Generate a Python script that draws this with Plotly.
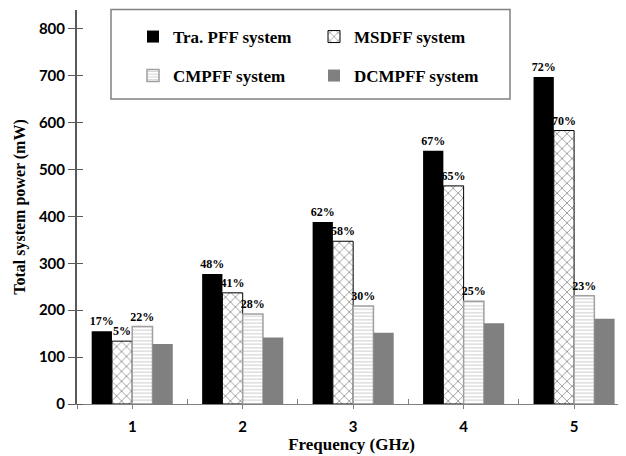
import plotly.graph_objects as go

categories = [1, 2, 3, 4, 5]
tra_pff = [155, 277, 388, 540, 697]
msdff = [134, 237, 347, 465, 583]
cmpff = [165, 192, 209, 219, 231]
dcmpff = [128, 142, 152, 172, 182]
tra_pct = [17, 48, 62, 67, 72]
msdff_pct = [5, 41, 58, 65, 70]
cmpff_pct = [22, 28, 30, 25, 23]
y_ticks = [0, 100, 200, 300, 400, 500, 600, 700, 800]

serif = "Liberation Serif"
label_font = dict(family=serif, size=12, color="black", weight="bold")

fig = go.Figure()
fig.add_trace(go.Bar(
    x=categories, y=tra_pff, name="Tra. PFF system",
    marker=dict(color="black", line=dict(width=0)),
    text=[f"{p}%" for p in tra_pct], textposition="outside",
    textfont=label_font, constraintext="none", cliponaxis=False,
    legend="legend",
))
fig.add_trace(go.Bar(
    x=categories, y=msdff, name="MSDFF system",
    marker=dict(color="white", line=dict(color="black", width=1),
                pattern=dict(shape="x", fgcolor="black", bgcolor="white",
                             size=7, solidity=0.2)),
    text=[f"{p}%" for p in msdff_pct], textposition="outside",
    textfont=label_font, constraintext="none", cliponaxis=False,
    legend="legend",
))
fig.add_trace(go.Bar(
    x=categories, y=cmpff, name="CMPFF system",
    marker=dict(color="white", line=dict(color="#a0a0a0", width=1.5),
                pattern=dict(shape="-", fgcolor="#9a9a9a", bgcolor="white",
                             size=3.5, solidity=0.3)),
    text=[f"{p}%" for p in cmpff_pct], textposition="outside",
    textfont=label_font, constraintext="none", cliponaxis=False,
    legend="legend2",
))
fig.add_trace(go.Bar(
    x=categories, y=dcmpff, name="DCMPFF system",
    marker=dict(color="#808080", line=dict(width=0)),
    legend="legend2",
))

# The page body has an 8px margin, so the figure is drawn 8px smaller
OFF = 8
FW, FH = 626 - OFF, 456 - OFF
# plot area in reference pixels: x 77..626, y 10..404
L, R, T, B = 77, 626, 10, 404
W, H = R - L, B - T
def px(x):
    return (x - L) / W
def py(y):
    return (B - y) / H

legend_common = dict(
    orientation="h", entrywidth=136, entrywidthmode="pixels",
    bgcolor="rgba(0,0,0,0)", borderwidth=0,
    font=dict(family=serif, size=17, color="black", weight="bold"),
    xanchor="left", yanchor="middle", x=px(133),
    traceorder="normal",
)
boundaries = [0.5, 1.5, 2.5, 3.5, 4.5, 5.5]
major_x = sorted(boundaries + categories)
major_text = ["" if v in boundaries else str(int(v)) for v in major_x]

fig.update_layout(
    width=FW, height=FH,
    margin=dict(l=L - OFF, r=0, t=T - OFF, b=FH - (B - OFF)),
    paper_bgcolor="white", plot_bgcolor="white",
    barmode="group", bargap=0.266, bargroupgap=0,
    legend=dict(**legend_common, y=py(37)),
    legend2=dict(**legend_common, y=py(76)),
    shapes=[dict(type="rect", xref="paper", yref="paper",
                 x0=px(111), x1=px(510), y0=py(99), y1=py(9.5),
                 line=dict(color="#808080", width=1.5))],
    xaxis=dict(
        range=[0.5, 5.47], tickmode="array", tickvals=major_x, ticktext=major_text,
        ticks="outside", ticklen=4, tickcolor="#808080", tickwidth=1,
        showline=True, linecolor="#808080", linewidth=1, showgrid=False,
        zeroline=False, ticklabelstandoff=5,
        tickfont=dict(family="Lato", size=15, color="black", weight="bold"),
        minor=dict(tickmode="array", tickvals=[1.5, 2.5, 3.5, 4.5], ticks="inside",
                   ticklen=5, tickcolor="#808080", tickwidth=1, showgrid=False),
        title=dict(text="Frequency (GHz)", standoff=2,
                   font=dict(family=serif, size=17, color="black", weight="bold")),
    ),
    yaxis=dict(
        range=[0, 840], tickmode="array", tickvals=y_ticks,
        ticks="outside", ticklen=7, tickcolor="#595959", tickwidth=1,
        showline=True, linecolor="#595959", linewidth=2, showgrid=False,
        zeroline=False,
        tickfont=dict(family="Lato", size=15, color="black", weight="bold"),
        minor=dict(tickmode="array", tickvals=y_ticks, ticks="inside",
                   ticklen=6, tickcolor="#595959", tickwidth=1, showgrid=False),
        title=dict(text="Total system power (mW)", standoff=9,
                   font=dict(family=serif, size=16, color="black", weight="bold")),
    ),
)

fig.write_html("out.html")
